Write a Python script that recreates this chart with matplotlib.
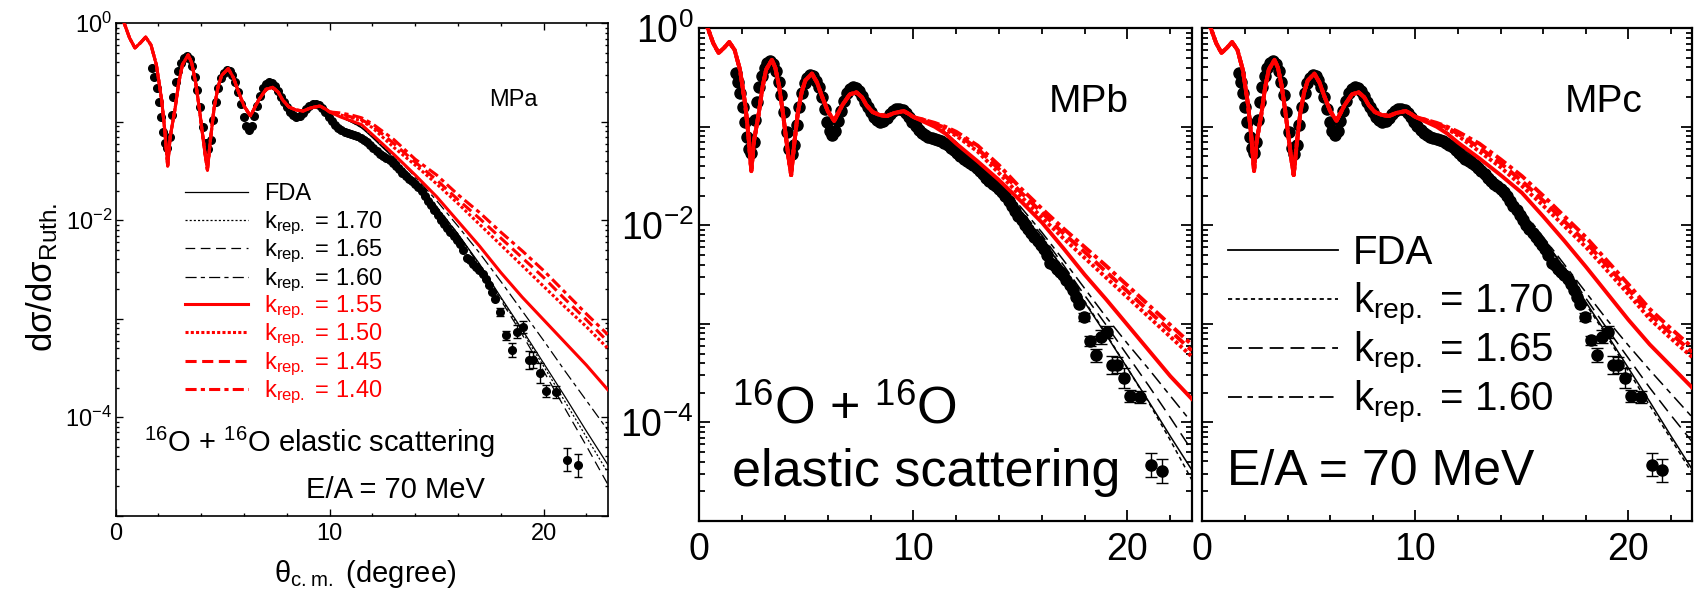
import numpy as np
import matplotlib

matplotlib.use("Agg")
import matplotlib.pyplot as plt
from matplotlib.ticker import FixedLocator, FixedFormatter, LogLocator, MultipleLocator, NullFormatter

plt.rcParams["font.family"] = ["Liberation Sans", "DejaVu Sans"]
plt.rcParams["mathtext.fontset"] = "custom"
plt.rcParams["mathtext.rm"] = "Liberation Sans"
plt.rcParams["mathtext.default"] = "regular"
plt.rcParams["lines.scale_dashes"] = False

# --- forward-angle oscillations, common to every calculation (log10 of ratio)
THETA_FWD = [0.0, 0.4, 0.65, 0.9, 1.15, 1.4, 1.65, 1.9, 2.15, 2.3, 2.43, 2.55, 2.78,
             2.95, 3.12, 3.39, 3.55, 3.73, 3.9, 4.08, 4.18, 4.29, 4.42, 4.6, 4.78,
             4.95, 5.26, 5.5, 5.73, 6.0, 6.3, 6.68, 7.03, 7.34, 7.6, 7.81, 8.1,
             8.42, 8.77, 9.1, 9.55, 9.8, 10.0]
LOG_FWD = [0.12, 0.0, -0.15, -0.25, -0.2, -0.14, -0.22, -0.42, -0.78, -1.1, -1.45, -1.15,
           -0.86, -0.6, -0.42, -0.32, -0.4, -0.59, -0.85, -1.16, -1.33, -1.49, -1.2,
           -0.86, -0.65, -0.53, -0.46, -0.55, -0.69, -0.84, -0.94, -0.78, -0.67, -0.65,
           -0.7, -0.78, -0.85, -0.88, -0.89, -0.86, -0.84, -0.87, -0.90]

# --- large-angle part, one list per curve and panel
THETA_TAIL = [10.5, 11, 11.5, 12, 13, 14, 15, 16, 17, 18, 19, 20, 21, 22, 23]
FDA_TAIL = [-0.95, -1.0, -1.06, -1.16, -1.37, -1.61, -1.87, -2.14, -2.44, -2.78, -3.11,
            -3.45, -3.79, -4.14, -4.48]

MPA_170 = [-0.95, -1.0, -1.06, -1.15, -1.36, -1.60, -1.86, -2.14, -2.45, -2.79, -3.13,
           -3.48, -3.84, -4.20, -4.56]
MPA_165 = [-0.95, -1.0, -1.06, -1.15, -1.36, -1.60, -1.86, -2.14, -2.46, -2.81, -3.16,
           -3.53, -3.91, -4.29, -4.68]
MPA_160 = [-0.95, -0.99, -1.05, -1.13, -1.33, -1.56, -1.80, -2.06, -2.33, -2.62, -2.92,
           -3.22, -3.53, -3.83, -4.13]
MPA_155 = [-0.95, -0.99, -1.03, -1.13, -1.33, -1.54, -1.76, -2.01, -2.26, -2.53, -2.78,
           -3.01, -3.24, -3.47, -3.72]
MPA_150 = [-0.93, -0.96, -0.99, -1.06, -1.26, -1.44, -1.63, -1.83, -2.04, -2.25, -2.46,
           -2.67, -2.88, -3.08, -3.30]
MPA_145 = [-0.92, -0.95, -0.98, -1.04, -1.22, -1.41, -1.59, -1.79, -1.98, -2.18, -2.38,
           -2.58, -2.80, -3.01, -3.23]
MPA_140 = [-0.91, -0.93, -0.96, -1.02, -1.18, -1.38, -1.54, -1.74, -1.92, -2.12, -2.31,
           -2.51, -2.73, -2.95, -3.16]

MPB_170 = [-0.95, -1.0, -1.06, -1.16, -1.37, -1.61, -1.87, -2.13, -2.44, -2.77, -3.10,
           -3.45, -3.80, -4.18, -4.58]
MPB_165 = [-0.95, -1.0, -1.06, -1.16, -1.36, -1.60, -1.85, -2.10, -2.40, -2.71, -3.01,
           -3.32, -3.63, -3.95, -4.28]
MPB_160 = [-0.95, -1.0, -1.06, -1.16, -1.36, -1.58, -1.81, -2.07, -2.35, -2.64, -2.93,
           -3.20, -3.46, -3.73, -4.00]
MPB_155 = [-0.95, -1.0, -1.07, -1.17, -1.35, -1.54, -1.75, -1.97, -2.23, -2.50, -2.75,
           -3.01, -3.27, -3.53, -3.76]
MPB_150 = [-0.94, -0.98, -1.03, -1.09, -1.25, -1.47, -1.70, -1.92, -2.13, -2.33, -2.53,
           -2.73, -2.93, -3.13, -3.33]
MPB_145 = [-0.93, -0.97, -1.01, -1.07, -1.22, -1.43, -1.66, -1.87, -2.08, -2.27, -2.47,
           -2.67, -2.87, -3.07, -3.27]
MPB_140 = [-0.93, -0.96, -1.00, -1.05, -1.19, -1.39, -1.62, -1.83, -2.03, -2.22, -2.41,
           -2.61, -2.81, -3.01, -3.21]

MPC_170 = [-0.95, -1.0, -1.06, -1.16, -1.37, -1.61, -1.87, -2.15, -2.46, -2.80, -3.13,
           -3.48, -3.83, -4.17, -4.52]
MPC_165 = [-0.95, -1.0, -1.06, -1.16, -1.36, -1.60, -1.86, -2.14, -2.43, -2.74, -3.05,
           -3.35, -3.65, -3.93, -4.20]
MPC_160 = [-0.95, -1.0, -1.06, -1.15, -1.35, -1.59, -1.84, -2.12, -2.40, -2.68, -2.96,
           -3.22, -3.47, -3.71, -3.95]
MPC_155 = [-0.95, -1.0, -1.07, -1.16, -1.32, -1.49, -1.67, -1.91, -2.16, -2.42, -2.69,
           -2.96, -3.21, -3.43, -3.65]
MPC_150 = [-0.94, -0.98, -1.02, -1.09, -1.25, -1.41, -1.60, -1.80, -2.01, -2.22, -2.46,
           -2.70, -2.95, -3.15, -3.34]
MPC_145 = [-0.93, -0.97, -1.01, -1.07, -1.21, -1.37, -1.55, -1.75, -1.96, -2.17, -2.41,
           -2.65, -2.90, -3.10, -3.29]
MPC_140 = [-0.93, -0.96, -1.00, -1.05, -1.17, -1.33, -1.50, -1.70, -1.91, -2.12, -2.36,
           -2.60, -2.85, -3.05, -3.24]

# --- measured 16O+16O data at E/A = 70 MeV (log10 of ratio)
THETA_EXP = [1.70, 1.80, 1.92, 2.02, 2.12, 2.22, 2.32, 2.42, 2.54, 2.62, 2.70, 2.80, 2.92,
             3.05, 3.18, 3.32, 3.45, 3.58, 3.70, 3.82, 3.95, 4.08, 4.20, 4.32, 4.44, 4.56,
             4.68, 4.80, 4.92, 5.05, 5.18, 5.32, 5.45, 5.58, 5.72, 5.85, 5.98, 6.10, 6.22,
             6.35, 6.48, 6.60, 6.74, 6.88, 7.02, 7.16, 7.30, 7.44, 7.58, 7.72, 7.86, 8.00,
             8.15, 8.30, 8.45, 8.60, 8.75, 8.90, 9.05, 9.20, 9.35, 9.50, 9.65, 9.80, 9.95,
             10.10, 10.25, 10.40, 10.55, 10.70, 10.85, 11.00, 11.15, 11.30, 11.45, 11.60,
             11.75, 11.90, 12.05, 12.20, 12.35, 12.50, 12.65, 12.80, 12.95, 13.10, 13.25,
             13.40, 13.55, 13.70, 13.85, 14.00, 14.15, 14.30, 14.45, 14.60, 14.75, 14.90,
             15.05, 15.20, 15.35, 15.50, 15.65, 15.80, 15.95, 16.10, 16.25, 16.40, 16.55,
             16.70, 16.85, 17.00, 17.15, 17.30, 17.45, 17.60, 17.75]
LOG_EXP = [-0.45, -0.55, -0.66, -0.80, -0.95, -1.10, -1.22, -1.27, -1.15, -0.93, -0.75,
           -0.60, -0.48, -0.40, -0.35, -0.33, -0.36, -0.43, -0.55, -0.68, -0.85, -1.05,
           -1.22, -1.28, -1.18, -0.98, -0.80, -0.66, -0.56, -0.50, -0.47, -0.48, -0.53,
           -0.60, -0.70, -0.82, -0.95, -1.04, -1.08, -1.04, -0.94, -0.84, -0.74, -0.66,
           -0.62, -0.60, -0.61, -0.64, -0.69, -0.75, -0.80, -0.85, -0.90, -0.93, -0.95,
           -0.94, -0.91, -0.87, -0.84, -0.82, -0.82, -0.83, -0.86, -0.90, -0.95, -0.99,
           -1.03, -1.06, -1.08, -1.10, -1.11, -1.12, -1.13, -1.14, -1.16, -1.18, -1.21,
           -1.24, -1.27, -1.30, -1.33, -1.35, -1.37, -1.39, -1.42, -1.45, -1.48, -1.52,
           -1.55, -1.58, -1.60, -1.63, -1.66, -1.70, -1.75, -1.80, -1.85, -1.90, -1.95,
           -2.00, -2.04, -2.08, -2.12, -2.16, -2.20, -2.24, -2.30, -2.38, -2.40, -2.44,
           -2.47, -2.50, -2.55, -2.60, -2.66, -2.73, -2.80]
THETA_ERR = [17.97, 18.24, 18.53, 18.75, 19.03, 19.30, 19.52, 19.84, 20.10, 20.60, 21.10, 21.60]
LOG_ERR = [-2.93, -3.17, -3.32, -3.13, -3.08, -3.42, -3.42, -3.55, -3.73, -3.74, -4.43, -4.49]
DEX_ERR = [0.04, 0.05, 0.07, 0.07, 0.06, 0.09, 0.08, 0.10, 0.06, 0.06, 0.12, 0.12]

LABELS = ["FDA", "1.70", "1.65", "1.60", "1.55", "1.50", "1.45", "1.40"]
TAILS = {
    "MPa": [FDA_TAIL, MPA_170, MPA_165, MPA_160, MPA_155, MPA_150, MPA_145, MPA_140],
    "MPb": [FDA_TAIL, MPB_170, MPB_165, MPB_160, MPB_155, MPB_150, MPB_145, MPB_140],
    "MPc": [FDA_TAIL, MPC_170, MPC_165, MPC_160, MPC_155, MPC_150, MPC_145, MPC_140],
}
COLORS = ["black"] * 4 + ["#ff0000"] * 4
DASHES = [None, (1.5, 1.5), (7, 4), (8, 3, 3, 3), None, (2.2, 1.6), (8, 4), (8, 3, 3, 3)]
DASHES_BIG = [None, (3, 2.5), (10, 5), (10, 4, 4, 4), None, (2.5, 1.8), (9, 4), (9, 3, 3, 3)]

FIG_W, FIG_H = 1697, 590


def frac(box):
    l, t, r, b = box
    return [l / FIG_W, 1 - b / FIG_H, (r - l) / FIG_W, (b - t) / FIG_H]


def style_axes(ax, small):
    ax.set_yscale("log")
    ax.set_xlim(0, 23)
    ax.set_ylim(1e-5, 1)
    ax.xaxis.set_major_locator(MultipleLocator(10))
    ax.xaxis.set_minor_locator(MultipleLocator(2))
    ax.yaxis.set_major_locator(FixedLocator([1e-5, 1e-4, 1e-3, 1e-2, 1e-1, 1]))
    ax.yaxis.set_major_formatter(FixedFormatter(["", "$10^{-4}$", "", "$10^{-2}$", "", "$10^{0}$"]))
    ax.yaxis.set_minor_locator(LogLocator(base=10, subs=np.arange(2, 10), numticks=20))
    ax.yaxis.set_minor_formatter(NullFormatter())
    if small:
        fs, maj, mnr, lw, pad = 17, 5, 2.5, 1.2, 5
    else:
        fs, maj, mnr, lw, pad = 27, 8, 4.5, 1.6, 8
    ax.tick_params(which="both", direction="in", top=True, right=True, width=lw * 0.8,
                   labelsize=fs, pad=pad)
    ax.tick_params(which="major", length=maj)
    ax.tick_params(which="minor", length=mnr)
    ax.tick_params(axis="y", pad=pad * 0.5)
    for spine in ax.spines.values():
        spine.set_linewidth(lw)


def draw_panel(ax, name, small):
    black_lw, red_lw = (0.9, 2.2) if small else (1.1, 2.8)
    dashes = DASHES if small else DASHES_BIG
    theta = THETA_FWD + THETA_TAIL
    ms, cap = (5.5, 3) if small else (8, 4.5)
    ax.plot(THETA_EXP, 10 ** np.array(LOG_EXP), "o", color="black", ms=ms, zorder=2)
    val = 10 ** np.array(LOG_ERR)
    dex = np.array(DEX_ERR)
    ax.errorbar(THETA_ERR, val, yerr=[val - val * 10 ** -dex, val * 10 ** dex - val],
                fmt="o", color="black", ms=ms, capsize=cap, elinewidth=1.0, capthick=1.0,
                zorder=2)
    for i, tail in enumerate(TAILS[name]):
        y = 10 ** np.array(LOG_FWD + tail)
        line, = ax.plot(theta, y, color=COLORS[i], lw=red_lw if i >= 4 else black_lw,
                        zorder=4 if i >= 4 else 3)
        if dashes[i] is not None:
            line.set_dashes(dashes[i])


fig = plt.figure(figsize=(FIG_W / 100, FIG_H / 100), dpi=100)
ax1 = fig.add_axes(frac((115.7, 23.3, 607.7, 515.7)))
ax2 = fig.add_axes(frac((699.3, 28.3, 1191.7, 521.0)))
ax3 = fig.add_axes(frac((1202.3, 28.3, 1692.3, 520.7)))

for ax, name, small in ((ax1, "MPa", True), (ax2, "MPb", False), (ax3, "MPc", False)):
    style_axes(ax, small)
    draw_panel(ax, name, small)
ax3.set_yticklabels([])

# panel a texts
ax1.text(-0.150, 0.485, "dσ/dσ$_{Ruth.}$", transform=ax1.transAxes, rotation=90,
         ha="center", va="center", fontsize=25)
ax1.text(0.507, -0.118, "θ$_{c.m.}$ (degree)", transform=ax1.transAxes,
         ha="center", va="center", fontsize=21)
ax1.text(0.8075, 0.844, "MPa", transform=ax1.transAxes, ha="center", va="center", fontsize=17)
ax1.text(0.0575, 0.129, "$^{16}$O + $^{16}$O elastic scattering", transform=ax1.transAxes,
         ha="left", va="baseline", fontsize=21)
ax1.text(0.387, 0.036, "E/A = 70 MeV", transform=ax1.transAxes, ha="left", va="baseline",
         fontsize=21)
rows_a = [0.658, 0.6005, 0.543, 0.4854, 0.430, 0.3725, 0.3148, 0.2573]
for i, y in enumerate(rows_a):
    line, = ax1.plot([0.1409, 0.2689], [y, y], transform=ax1.transAxes, color=COLORS[i],
                     lw=2.2 if i >= 4 else 0.9)
    if DASHES[i] is not None:
        line.set_dashes(DASHES[i])
    label = "FDA" if i == 0 else "k$_{rep.}$ = " + LABELS[i]
    ax1.text(0.3014, y - 0.0165, label, transform=ax1.transAxes, ha="left", va="baseline",
             fontsize=17, color=COLORS[i])

# panel b texts
ax2.text(0.7914, 0.850, "MPb", transform=ax2.transAxes, ha="center", va="center", fontsize=28)
ax2.text(0.066, 0.199, "$^{16}$O + $^{16}$O", transform=ax2.transAxes, ha="left",
         va="baseline", fontsize=37.5)
ax2.text(0.066, 0.072, "elastic scattering", transform=ax2.transAxes, ha="left",
         va="baseline", fontsize=37.5)

# panel c texts
ax3.text(0.8198, 0.850, "MPc", transform=ax3.transAxes, ha="center", va="center", fontsize=28)
rows_c = [0.550, 0.450, 0.351, 0.251]
for i, y in enumerate(rows_c):
    line, = ax3.plot([0.0525, 0.277], [y, y], transform=ax3.transAxes, color="black", lw=1.3)
    if DASHES_BIG[i] is not None:
        line.set_dashes(DASHES_BIG[i])
    label = "FDA" if i == 0 else "k$_{rep.}$ = " + LABELS[i]
    ax3.text(0.307, y - 0.029, label, transform=ax3.transAxes, ha="left", va="baseline",
             fontsize=29)
ax3.text(0.050, 0.0725, "E/A = 70 MeV", transform=ax3.transAxes, ha="left",
         va="baseline", fontsize=36)

fig.savefig("out.png", dpi=100)
